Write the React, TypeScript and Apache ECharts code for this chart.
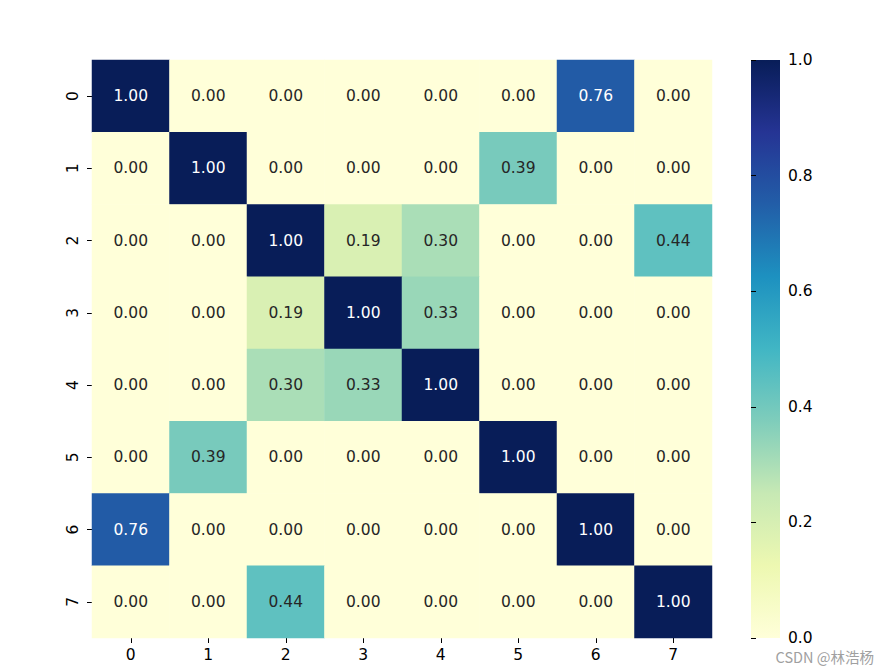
import React, { useEffect, useRef } from "react";
import * as echarts from "echarts";

const categories = ["0", "1", "2", "3", "4", "5", "6", "7"];
const row0 = [1.0, 0.0, 0.0, 0.0, 0.0, 0.0, 0.76, 0.0];
const row1 = [0.0, 1.0, 0.0, 0.0, 0.0, 0.39, 0.0, 0.0];
const row2 = [0.0, 0.0, 1.0, 0.19, 0.3, 0.0, 0.0, 0.44];
const row3 = [0.0, 0.0, 0.19, 1.0, 0.33, 0.0, 0.0, 0.0];
const row4 = [0.0, 0.0, 0.3, 0.33, 1.0, 0.0, 0.0, 0.0];
const row5 = [0.0, 0.39, 0.0, 0.0, 0.0, 1.0, 0.0, 0.0];
const row6 = [0.76, 0.0, 0.0, 0.0, 0.0, 0.0, 1.0, 0.0];
const row7 = [0.0, 0.0, 0.44, 0.0, 0.0, 0.0, 0.0, 1.0];
const matrix = [row0, row1, row2, row3, row4, row5, row6, row7];

const YLGNBU = [
  "#ffffd9",
  "#edf8b1",
  "#c7e9b4",
  "#7fcdbb",
  "#41b6c4",
  "#1d91c0",
  "#225ea8",
  "#253494",
  "#081d58",
];

const FONT = "DejaVu Sans";

export default function App() {
  const ref = useRef<HTMLDivElement>(null);
  useEffect(() => {
    if (!ref.current) return;
    const chart = echarts.init(ref.current, undefined, { renderer: "svg" });
    const data: any[] = [];
    matrix.forEach((row, r) => {
      row.forEach((v, c) => {
        data.push({
          value: [c, r, v],
          label: { color: v > 0.6 ? "#ffffff" : "#262626" },
        });
      });
    });
    chart.setOption({
      animation: false,
      backgroundColor: "#ffffff",
      textStyle: { fontFamily: FONT },
      grid: [
        { left: 92, top: 60, width: 620, height: 578 },
        { left: 751, top: 60, width: 29, height: 578 },
      ],
      xAxis: [
        {
          type: "category",
          data: categories,
          gridIndex: 0,
          position: "bottom",
          axisLine: { show: false },
          axisTick: { show: true, length: 5, alignWithLabel: true, lineStyle: { color: "#000" } },
          axisLabel: { color: "#000", fontSize: 15.5, fontFamily: FONT, margin: 9 },
          splitLine: { show: false },
        },
        {
          type: "value",
          gridIndex: 1,
          show: false,
          min: 0,
          max: 1,
        },
      ],
      yAxis: [
        {
          type: "category",
          data: categories,
          gridIndex: 0,
          inverse: true,
          axisLine: { show: false },
          axisTick: { show: true, length: 5, alignWithLabel: true, lineStyle: { color: "#000" } },
          axisLabel: { color: "#000", fontSize: 15.5, fontFamily: FONT, rotate: 90, margin: 11 },
          splitLine: { show: false },
        },
        {
          type: "value",
          gridIndex: 1,
          position: "right",
          min: 0,
          max: 1,
          interval: 0.2,
          axisLine: { show: false },
          axisTick: { show: true, length: 5, lineStyle: { color: "#000" } },
          axisLabel: {
            color: "#000",
            fontSize: 15.5,
            fontFamily: FONT,
            margin: 8,
            formatter: (v: number) => v.toFixed(1),
          },
          splitLine: { show: false },
        },
      ],
      visualMap: {
        type: "continuous",
        show: false,
        seriesIndex: 0,
        min: 0,
        max: 1,
        inRange: { color: YLGNBU },
      },
      graphic: [
        {
          type: "rect",
          left: 751,
          top: 60,
          z: -1,
          shape: { width: 29, height: 578 },
          style: {
            fill: new echarts.graphic.LinearGradient(0, 1, 0, 0, YLGNBU.map((color, i) => ({
              offset: i / (YLGNBU.length - 1),
              color,
            }))),
          },
        },
        {
          type: "text",
          right: 14,
          top: 649,
          style: {
            text: "CSDN @林浩杨",
            fill: "#a0a0a0",
            font: "14.5px 'Noto Sans CJK SC', sans-serif",
          },
        },
      ],
      series: [
        {
          type: "heatmap",
          xAxisIndex: 0,
          yAxisIndex: 0,
          data,
          label: {
            show: true,
            fontSize: 15.5,
            fontFamily: FONT,
            formatter: (p: any) => p.value[2].toFixed(2),
          },
          itemStyle: { borderWidth: 0 },
          emphasis: { disabled: true },
        },
        {
          type: "scatter",
          xAxisIndex: 1,
          yAxisIndex: 1,
          data: [],
        },
      ],
    });
    return () => chart.dispose();
  }, []);
  return (
    <div
      ref={ref}
      style={{ position: "fixed", left: 0, top: 0, width: 888, height: 670 }}
    />
  );
}
